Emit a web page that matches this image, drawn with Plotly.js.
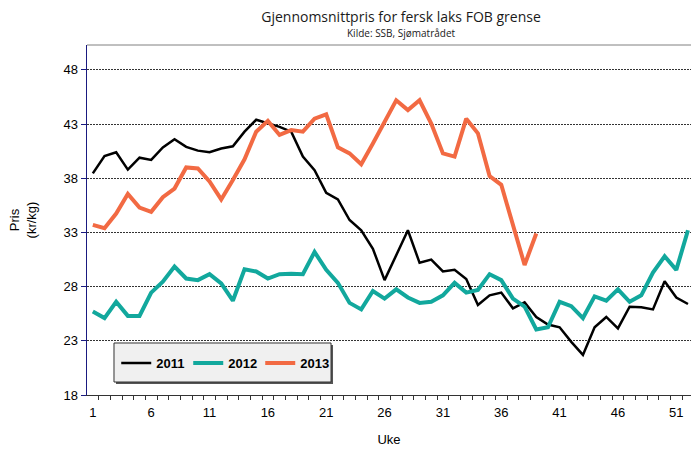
<!DOCTYPE html>
<html>
<head>
<meta charset="utf-8">
<script src="https://cdn.plot.ly/plotly-3.0.1.min.js"></script>
<style>html,body{margin:0;padding:0;overflow:hidden;background:#fff}</style>
</head>
<body>
<div id="chart" style="width:691px;height:450px"></div>
<script>
var weeks = [1,2,3,4,5,6,7,8,9,10,11,12,13,14,15,16,17,18,19,20,21,22,23,24,25,26,27,28,29,30,31,32,33,34,35,36,37,38,39,40,41,42,43,44,45,46,47,48,49,50,51,52];
var price2011 = [38.45,40.05,40.4,38.8,39.9,39.7,40.85,41.6,40.9,40.55,40.4,40.75,40.95,42.3,43.4,43.05,42.75,42.3,40.0,38.75,36.65,36.05,34.15,33.2,31.5,28.6,30.9,33.2,30.2,30.5,29.4,29.55,28.7,26.3,27.2,27.45,26.0,26.55,25.2,24.5,24.25,22.9,21.7,24.25,25.2,24.15,26.15,26.1,25.9,28.5,27.0,26.4];
var price2012 = [25.7,25.1,26.6,25.3,25.3,27.45,28.45,29.85,28.75,28.6,29.15,28.3,26.7,29.6,29.4,28.75,29.15,29.2,29.15,31.2,29.55,28.35,26.5,25.9,27.6,26.9,27.75,27.0,26.5,26.6,27.2,28.35,27.45,27.7,29.15,28.6,26.9,26.15,24.05,24.25,26.6,26.2,25.1,27.1,26.7,27.75,26.6,27.2,29.3,30.8,29.55,33.2];
var price2013 = [33.7,33.4,34.75,36.55,35.3,34.9,36.25,37.05,39.0,38.9,37.7,36.05,37.85,39.75,42.3,43.3,42.0,42.45,42.3,43.5,43.9,40.85,40.3,39.3,41.2,43.2,45.2,44.3,45.2,43.05,40.3,40.0,43.5,42.15,38.2,37.4,33.55,30.0,32.9];
var seriesNames = ['2011','2012','2013'];
var xTickVals = [1,6,11,16,21,26,31,36,41,46,51];
var xTickText = ['1','6','11','16','21','26','31','36','41','46','51'];
var yTickVals = [18,23,28,33,38,43,48];
var yTickText = ['18','23','28','33','38','43','48'];

var boundaries = weeks.slice(0, weeks.length - 1).map(function(w){ return w + 0.5; });

var traces = [
  {x: weeks, y: price2011, name: '<b>' + seriesNames[0] + '</b>', type: 'scatter', mode: 'lines',
   line: {color: '#000000', width: 2.5}},
  {x: weeks, y: price2012, name: '<b>' + seriesNames[1] + '</b>', type: 'scatter', mode: 'lines',
   line: {color: '#12a89d', width: 4}},
  {x: weeks.slice(0, price2013.length), y: price2013, name: '<b>' + seriesNames[2] + '</b>', type: 'scatter', mode: 'lines',
   line: {color: '#f26a43', width: 4}}
];

var axFont = {family: 'Arial, Liberation Sans, sans-serif', size: 13, color: '#000'};

var layout = {
  width: 691, height: 450,
  margin: {l: 87, r: 0, t: 45, b: 55},
  paper_bgcolor: '#ffffff', plot_bgcolor: '#ffffff',
  showlegend: true,
  title: {
    text: 'Gjennomsnittpris for fersk laks FOB grense',
    font: {family: 'Open Sans, sans-serif', size: 14, color: '#1a1a1a'},
    x: 401/691, xanchor: 'center', xref: 'container',
    y: 1 - 17/450, yanchor: 'middle', yref: 'container'
  },
  annotations: [{
    text: 'Kilde: SSB, Sjømatrådet', showarrow: false,
    xref: 'paper', yref: 'paper', x: 0.52, y: 1.034, xanchor: 'center', yanchor: 'middle',
    font: {family: 'Open Sans, sans-serif', size: 10, color: '#1a1a1a'}
  }],
  xaxis: {
    range: [0.5, 52.26], fixedrange: true,
    tickmode: 'array', tickvals: xTickVals, ticktext: xTickText,
    ticks: 'outside', ticklen: 5, tickcolor: 'rgba(0,0,0,0)',
    showline: true, linecolor: '#333333', linewidth: 1,
    showgrid: false, zeroline: false,
    tickfont: axFont,
    minor: {tickmode: 'array', tickvals: boundaries, ticks: 'outside', ticklen: 4, tickcolor: '#333333', tickwidth: 1, showgrid: false},
    title: {text: 'Uke', font: axFont, standoff: 16}
  },
  yaxis: {
    range: [18, 50.3], fixedrange: true,
    tickmode: 'array', tickvals: yTickVals, ticktext: yTickText,
    ticks: 'outside', ticklen: 5, tickcolor: '#1a1a80', tickwidth: 1,
    showline: true, linecolor: '#1a1a80', linewidth: 1.5,
    showgrid: true, gridcolor: '#333333', gridwidth: 1, griddash: '2px,1px',
    zeroline: false,
    tickfont: axFont,
    title: {text: 'Pris<br>(kr/kg)', font: axFont, standoff: 24}
  },
  shapes: [
    {type: 'line', xref: 'paper', yref: 'paper', x0: 0, x1: 1, y0: 1, y1: 1, line: {color: '#808080', width: 1}},
    {type: 'rect', xref: 'paper', yref: 'paper', layer: 'above', x0: 0.0480, x1: 0.4073, y0: 0.0314, y1: 0.143,
     fillcolor: '#555555', line: {width: 0}},
    {type: 'rect', xref: 'paper', yref: 'paper', layer: 'above', x0: 0.0447, x1: 0.404, y0: 0.0371, y1: 0.1486,
     fillcolor: '#f0f0f0', line: {color: '#333333', width: 1}}
  ],
  legend: {
    orientation: 'h', x: 0.0484, xanchor: 'left', y: 0.0914, yanchor: 'middle',
    bgcolor: 'rgba(0,0,0,0)', borderwidth: 0,
    font: axFont, itemwidth: 30,
    entrywidth: 27, entrywidthmode: 'pixels'
  }
};

Plotly.newPlot('chart', traces, layout, {displayModeBar: false, staticPlot: true});
</script>
</body>
</html>
